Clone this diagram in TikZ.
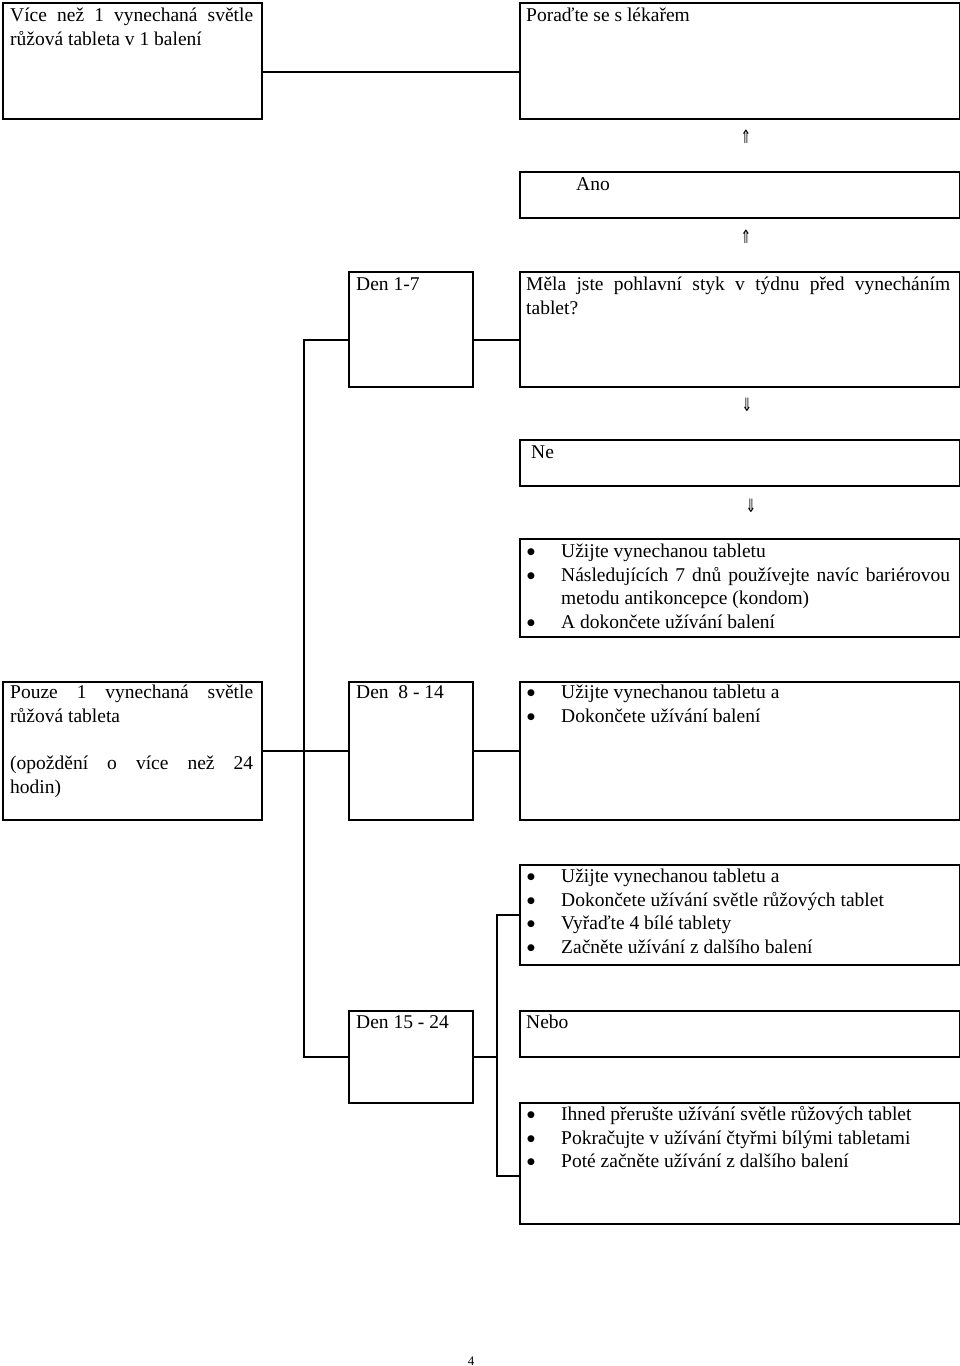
\documentclass[tikz,border=0pt]{standalone}
\usepackage{fontspec}
\setmainfont{Liberation Serif}
\newfontfamily\arrowfont{DejaVu Sans}
\setlength{\parindent}{0pt}
\newcommand\bodyfont{\fontsize{19.5}{23.6}\selectfont}
\newcommand\blt{\makebox[34pt][l]{\raisebox{3.2pt}{\arrowfont\fontsize{9}{9}\selectfont ●}}}
\newcommand\bitem[1]{\noindent\hangindent=34pt\hangafter=1\strut\blt#1\par}
\newcommand\upar{\scalebox{0.8}[1.15]{⇑}}
\newcommand\dnar{\scalebox{0.8}[1.15]{⇓}}
\tikzset{
  boxst/.style={draw, line width=1.6pt, inner sep=0pt, anchor=north west},
  txt/.style={inner sep=0pt, anchor=north west, align=justify, font=\bodyfont},
  link/.style={line width=1.6pt},
  arr/.style={inner sep=0pt, font=\arrowfont\fontsize{16}{16}\selectfont}
}
\begin{document}
\begin{tikzpicture}[x=1pt,y=-1pt]
\useasboundingbox (0,0) rectangle (960,1366);
% boxes
\node[boxst, minimum width=259pt, minimum height=116pt] (a) at (2,2) {};
\node[boxst, minimum width=440pt, minimum height=116pt] (b) at (519,2) {};
\node[boxst, minimum width=440pt, minimum height=46pt] (ano) at (519,171) {};
\node[boxst, minimum width=124pt, minimum height=115pt] (d17) at (348,271) {};
\node[boxst, minimum width=440pt, minimum height=115pt] (mela) at (519,271) {};
\node[boxst, minimum width=440pt, minimum height=46pt] (ne) at (519,439) {};
\node[boxst, minimum width=440pt, minimum height=98pt] (b1) at (519,538) {};
\node[boxst, minimum width=259pt, minimum height=138pt] (pouze) at (2,681) {};
\node[boxst, minimum width=124pt, minimum height=138pt] (d814) at (348,681) {};
\node[boxst, minimum width=440pt, minimum height=138pt] (b2) at (519,681) {};
\node[boxst, minimum width=440pt, minimum height=100pt] (b3) at (519,864) {};
\node[boxst, minimum width=124pt, minimum height=92pt] (d1524) at (348,1010) {};
\node[boxst, minimum width=440pt, minimum height=46pt] (nebo) at (519,1010) {};
\node[boxst, minimum width=440pt, minimum height=121pt] (b4) at (519,1102) {};
% texts
\node[txt, text width=243pt] (at) at ([xshift=8pt,yshift=-3pt]a.north west) {\strut Více než 1 vynechaná světle růžová tableta v 1 balení};
\node[txt, text width=424pt] (bt) at ([xshift=7pt,yshift=-3pt]b.north west) {\strut Poraďte se s lékařem};
\node[txt, text width=300pt] (anot) at ([xshift=57pt,yshift=-3pt]ano.north west) {\strut Ano};
\node[txt, text width=108pt] (d17t) at ([xshift=8pt,yshift=-3pt]d17.north west) {\strut Den 1-7};
\node[txt, text width=424pt] (melat) at ([xshift=7pt,yshift=-3pt]mela.north west) {\strut Měla jste pohlavní styk v týdnu před vynecháním tablet?};
\node[txt, text width=400pt] (net) at ([xshift=12pt,yshift=-3pt]ne.north west) {\strut Ne};
\node[txt, text width=423pt] (b1t) at ([xshift=8pt,yshift=-3pt]b1.north west) {\bitem{Užijte vynechanou tabletu}\bitem{Následujících 7 dnů používejte navíc bariérovou metodu antikoncepce (kondom)}\bitem{A dokončete užívání balení}};
\node[txt, text width=243pt] (pouzet) at ([xshift=8pt,yshift=-1pt]pouze.north west) {\strut Pouze 1 vynechaná světle růžová tableta\par\mbox{}\par\strut (opoždění o více než 24\linebreak hodin)};
\node[txt, text width=108pt] (d814t) at ([xshift=8pt,yshift=-1pt]d814.north west) {\strut Den~ 8 - 14};
\node[txt, text width=423pt] (b2t) at ([xshift=8pt,yshift=-1pt]b2.north west) {\bitem{Užijte vynechanou tabletu a}\bitem{Dokončete užívání balení}};
\node[txt, text width=423pt] (b3t) at ([xshift=8pt,yshift=-2pt]b3.north west) {\bitem{Užijte vynechanou tabletu a}\bitem{Dokončete užívání světle růžových tablet}\bitem{Vyřaďte 4 bílé tablety}\bitem{Začněte užívání z dalšího balení}};
\node[txt, text width=108pt] (d1524t) at ([xshift=8pt,yshift=-2pt]d1524.north west) {\strut Den 15 - 24};
\node[txt, text width=424pt] (nebot) at ([xshift=7pt,yshift=-2pt]nebo.north west) {\strut Nebo};
\node[txt, text width=423pt] (b4t) at ([xshift=8pt,yshift=-2pt]b4.north west) {\bitem{Ihned přerušte užívání světle růžových tablet}\bitem{Pokračujte v užívání čtyřmi bílými tabletami}\bitem{Poté začněte užívání z dalšího balení}};
% arrows (glyphs)
\node[arr] (u1) at (746,137) {\upar};
\node[arr] (u2) at (746,237) {\upar};
\node[arr] (n1) at (747,405) {\dnar};
\node[arr] (n2) at (751,506) {\dnar};
% page number
\node[inner sep=0pt, font=\fontsize{13}{13}\selectfont] (pg) at (471,1361) {4};
% connectors
\coordinate (spx) at (304,0);
\coordinate (tx) at (497,0);
\draw[link] ([yshift=-11pt]a.east) -- ([yshift=-11pt]b.west);
\draw[link] ([yshift=-10.5pt]d17.east) -- ([yshift=-10.5pt]mela.west);
\draw[link] ([yshift=-10.5pt]d17.west) -| (spx |- d1524.west) -- (d1524.west);
\draw[link] (pouze.east) -- (d814.west);
\draw[link] (d814.east) -- (b2.west);
\draw[link] (d1524.east) -- (tx |- d1524.east);
\draw[link] (b3.west) -| (tx |- d1524.east) |- ([yshift=-12.5pt]b4.west);
\end{tikzpicture}
\end{document}
